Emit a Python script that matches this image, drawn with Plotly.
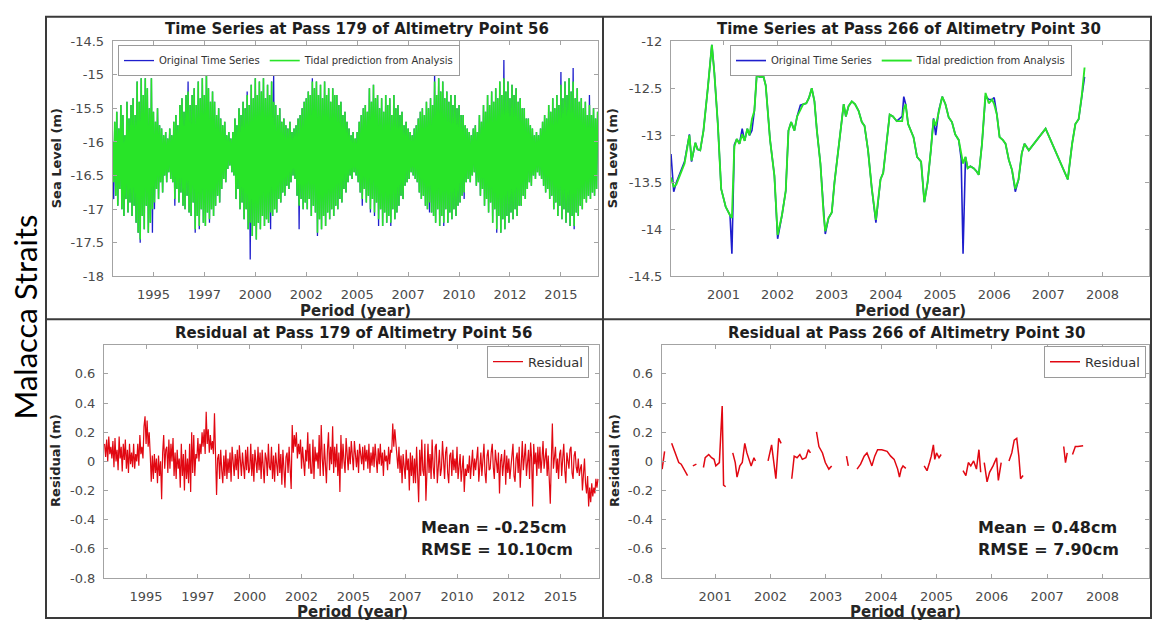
import numpy as np
import plotly.graph_objects as go

# ---------------- DATA ----------------
# Top-left: Pass 179, point 56 (sampled every 0.05 yr from 1993.0), one row per year
tl_start = 1993.0
tl_step = 0.05
tl_tide = [
    -16.0, -16.6, -15.7, -16.8, -15.55, -16.95, -15.8, -16.7, -15.45, -17.0, -15.6, -17.1, -15.9, -16.85, -15.4, -17.05, -15.65, -16.9, -15.45, -17.1,
    -15.35, -16.95, -15.6, -17.2, -15.1, -17.35, -15.4, -17.45, -15.05, -17.1, -15.3, -17.3, -15.05, -16.95, -15.2, -17.35, -15.5, -17.2, -15.05, -17.0,
    -15.55, -16.9, -15.7, -16.7, -15.5, -16.85, -15.75, -16.6, -15.8, -16.75, -15.9, -16.5, -15.85, -16.6, -15.95, -16.45, -15.8, -16.55, -15.9, -16.6,
    -15.7, -16.85, -15.6, -16.7, -15.75, -16.9, -15.45, -16.75, -15.35, -16.95, -15.55, -17.0, -15.3, -16.8, -15.25, -17.05, -15.45, -17.1, -15.3, -16.9,
    -15.2, -17.3, -15.45, -17.1, -15.1, -17.25, -15.35, -17.0, -15.05, -17.2, -15.3, -17.25, -14.95, -17.05, -15.2, -17.15, -15.4, -17.0, -15.25, -17.1,
    -15.4, -16.95, -15.6, -16.8, -15.5, -16.9, -15.65, -16.7, -15.75, -16.55, -15.7, -16.6, -15.9, -16.4, -15.85, -16.35, -15.95, -16.45, -15.85, -16.5,
    -15.65, -16.85, -15.75, -16.7, -15.5, -17.0, -15.6, -16.9, -15.4, -17.15, -15.5, -17.0, -15.3, -17.3, -15.45, -17.2, -15.15, -17.4, -15.35, -17.25,
    -15.05, -17.45, -15.3, -17.2, -15.1, -17.3, -15.25, -17.1, -15.05, -17.25, -15.35, -17.15, -15.15, -17.2, -15.3, -17.05, -15.1, -17.1, -15.4, -17.0,
    -15.45, -17.05, -15.6, -16.85, -15.5, -16.9, -15.7, -16.75, -15.65, -16.8, -15.75, -16.65, -15.8, -16.7, -15.7, -16.6, -15.85, -16.5, -15.8, -16.55,
    -15.75, -16.8, -15.65, -16.95, -15.6, -16.85, -15.5, -17.0, -15.4, -16.9, -15.35, -17.0, -15.25, -16.85, -15.3, -17.1, -15.1, -16.95, -15.2, -17.05,
    -15.1, -17.35, -15.3, -17.15, -15.15, -17.3, -15.35, -17.1, -15.1, -17.25, -15.3, -17.05, -15.2, -17.15, -15.4, -17.0, -15.2, -17.1, -15.3, -16.95,
    -15.3, -17.0, -15.45, -16.85, -15.4, -16.9, -15.6, -16.7, -15.55, -16.75, -15.7, -16.6, -15.8, -16.5, -15.9, -16.55, -15.85, -16.45, -15.95, -16.5,
    -15.85, -16.6, -15.7, -16.75, -15.6, -16.85, -15.5, -16.7, -15.45, -16.9, -15.55, -16.8, -15.2, -17.0, -15.4, -16.85, -15.15, -17.05, -15.35, -16.9,
    -15.3, -17.15, -15.5, -17.0, -15.35, -17.25, -15.55, -17.05, -15.3, -17.2, -15.45, -17.1, -15.35, -17.2, -15.6, -17.0, -15.3, -17.15, -15.5, -17.05,
    -15.45, -16.95, -15.6, -16.8, -15.55, -16.85, -15.75, -16.65, -15.7, -16.6, -15.8, -16.55, -15.85, -16.45, -15.9, -16.5, -15.8, -16.55, -15.75, -16.6,
    -15.65, -16.75, -15.55, -16.85, -15.5, -16.8, -15.6, -16.95, -15.4, -17.0, -15.5, -16.9, -15.35, -17.05, -15.45, -17.1, -15.1, -17.2, -15.3, -17.0,
    -15.05, -17.25, -15.25, -17.1, -15.1, -17.2, -15.35, -17.0, -15.25, -17.2, -15.4, -17.05, -15.3, -17.15, -15.45, -17.0, -15.3, -17.1, -15.5, -16.95,
    -15.45, -16.9, -15.6, -16.8, -15.6, -16.75, -15.75, -16.6, -15.8, -16.55, -15.85, -16.6, -15.9, -16.5, -15.8, -16.45, -15.75, -16.65, -15.85, -16.6,
    -15.6, -16.8, -15.7, -16.7, -15.45, -16.95, -15.55, -16.85, -15.3, -17.05, -15.45, -16.9, -15.25, -17.2, -15.4, -17.0, -15.2, -17.3, -15.35, -17.1,
    -15.1, -17.35, -15.3, -17.15, -15.05, -17.3, -15.25, -17.1, -15.1, -17.2, -15.35, -17.05, -15.15, -17.15, -15.3, -17.0, -15.2, -17.1, -15.4, -16.95,
    -15.35, -16.95, -15.5, -16.8, -15.5, -16.85, -15.65, -16.7, -15.65, -16.6, -15.75, -16.65, -15.8, -16.5, -15.9, -16.55, -15.85, -16.45, -15.9, -16.5,
    -15.8, -16.55, -15.7, -16.65, -15.6, -16.75, -15.65, -16.7, -15.45, -16.85, -15.55, -16.8, -15.35, -17.0, -15.5, -16.9, -15.3, -17.1, -15.45, -16.95,
    -15.15, -17.15, -15.35, -17.0, -15.1, -17.2, -15.3, -17.05, -15.05, -17.25, -15.25, -17.1, -15.1, -17.25, -15.35, -17.05, -15.2, -17.1, -15.4, -16.95,
    -15.35, -17.0, -15.5, -16.85, -15.4, -16.9, -15.6, -16.8, -15.45, -16.85, -15.6, -16.75, -15.5, -16.8, -15.65, -16.7, -15.55,
]
tl_orig = [
    -16.0, -16.85, -15.7, -16.8, -15.55, -16.95, -15.8, -16.7, -15.45, -17.0, -15.6, -17.1, -15.9, -16.85, -15.4, -17.05, -15.65, -16.9, -15.45, -17.1,
    -15.35, -16.95, -15.6, -17.2, -15.1, -17.35, -15.4, -17.5, -15.05, -17.1, -15.3, -17.3, -15.05, -16.95, -15.2, -17.35, -15.5, -17.2, -15.05, -17.35,
    -15.55, -17.0, -15.7, -16.7, -15.5, -16.85, -15.75, -16.6, -15.8, -16.75, -15.9, -16.5, -15.85, -16.6, -15.95, -16.45, -15.8, -16.55, -15.9, -16.6,
    -15.7, -16.95, -15.6, -16.7, -15.75, -16.9, -15.45, -16.75, -15.35, -16.95, -15.55, -17.0, -15.3, -16.8, -15.1, -17.05, -15.45, -17.1, -15.3, -16.9,
    -15.2, -17.35, -15.45, -17.1, -15.1, -17.3, -15.35, -17.0, -15.05, -17.2, -15.3, -17.25, -14.95, -17.05, -15.2, -17.2, -15.4, -17.0, -15.25, -17.1,
    -15.4, -16.95, -15.6, -16.8, -15.5, -16.9, -15.65, -16.7, -15.75, -16.55, -15.7, -16.6, -15.9, -16.4, -15.85, -16.35, -15.95, -16.45, -15.85, -16.5,
    -15.65, -16.85, -15.75, -16.7, -15.5, -17.0, -15.6, -16.9, -15.4, -17.15, -15.5, -17.0, -15.25, -17.3, -15.45, -17.75, -15.15, -17.4, -15.35, -17.25,
    -15.05, -17.45, -15.3, -17.2, -15.1, -17.3, -15.25, -17.1, -15.05, -17.25, -15.35, -17.15, -15.15, -17.2, -15.3, -17.3, -15.1, -17.1, -14.98, -17.0,
    -15.45, -17.05, -15.6, -16.85, -15.5, -16.9, -15.7, -16.75, -15.65, -16.8, -15.75, -16.65, -15.8, -16.7, -15.7, -16.6, -15.85, -16.5, -15.8, -16.55,
    -15.75, -16.8, -15.65, -17.3, -15.6, -16.85, -15.5, -17.0, -15.4, -16.9, -15.35, -17.0, -15.25, -16.85, -15.3, -17.1, -15.05, -16.95, -15.2, -17.05,
    -15.1, -17.4, -15.3, -17.15, -15.15, -17.3, -15.35, -17.1, -15.1, -17.25, -15.3, -17.05, -15.2, -17.15, -15.4, -17.0, -15.2, -17.1, -15.3, -16.95,
    -15.3, -17.0, -15.45, -16.85, -15.4, -16.9, -15.6, -16.7, -15.55, -16.75, -15.7, -16.6, -15.8, -16.5, -15.9, -16.55, -15.85, -16.45, -15.95, -16.5,
    -15.85, -16.6, -15.7, -16.75, -15.6, -16.95, -15.5, -16.7, -15.45, -16.9, -15.55, -16.8, -15.2, -17.05, -15.4, -16.85, -15.15, -17.1, -15.35, -16.9,
    -15.3, -17.25, -15.5, -17.0, -15.35, -17.25, -15.55, -17.05, -15.3, -17.2, -15.45, -17.1, -15.35, -17.25, -15.6, -17.0, -15.3, -17.15, -15.5, -17.05,
    -15.45, -16.95, -15.6, -16.8, -15.55, -16.85, -15.75, -16.65, -15.7, -16.6, -15.8, -16.55, -15.85, -16.45, -15.9, -16.5, -15.8, -16.55, -15.75, -16.6,
    -15.65, -16.75, -15.55, -16.85, -15.5, -16.8, -15.6, -16.95, -15.4, -17.0, -15.5, -17.05, -15.35, -17.05, -15.45, -17.1, -14.95, -17.2, -15.3, -17.0,
    -15.05, -17.25, -15.25, -17.1, -15.1, -17.25, -15.35, -17.0, -15.25, -17.2, -15.4, -17.05, -15.3, -17.15, -15.45, -17.0, -15.3, -17.1, -15.5, -16.95,
    -15.45, -16.9, -15.6, -16.8, -15.6, -16.85, -15.75, -16.6, -15.8, -16.55, -15.85, -16.6, -15.9, -16.5, -15.8, -16.45, -15.75, -16.65, -15.85, -16.6,
    -15.6, -16.8, -15.7, -16.7, -15.45, -16.95, -15.55, -16.85, -15.3, -17.05, -15.45, -16.9, -15.25, -17.2, -15.4, -17.0, -15.2, -17.35, -15.35, -17.1,
    -15.1, -17.35, -15.3, -17.15, -14.78, -17.3, -15.25, -17.1, -15.1, -17.2, -15.35, -17.05, -15.15, -17.15, -15.3, -17.0, -15.2, -17.1, -15.4, -16.95,
    -15.35, -16.95, -15.5, -16.8, -15.5, -16.85, -15.65, -16.7, -15.65, -16.6, -15.75, -16.65, -15.8, -16.5, -15.9, -16.55, -15.85, -16.45, -15.9, -16.5,
    -15.8, -16.55, -15.7, -16.65, -15.6, -16.75, -15.65, -16.7, -15.45, -16.85, -15.55, -16.8, -15.35, -17.0, -15.5, -16.9, -15.3, -17.1, -15.45, -16.95,
    -14.96, -17.15, -15.35, -17.0, -15.1, -17.2, -15.3, -17.05, -15.05, -17.25, -15.25, -17.1, -14.9, -17.3, -15.35, -17.05, -15.2, -17.1, -15.4, -16.95,
    -15.35, -17.0, -15.5, -16.85, -15.4, -16.9, -15.6, -16.8, -15.3, -16.85, -15.6, -16.75, -15.5, -16.8, -15.65, -16.7, -15.55,
]
# Bottom-left: residual (sampled every 0.05 yr from 1993.0), one row per year
bl_start = 1993.0
bl_step = 0.05
bl_resid = [
    0.12, 0.03, 0.15, 0.0, 0.17, 0.05, 0.10, 0.02, 0.14, -0.04, 0.16, 0.00, 0.08, -0.06, 0.17, 0.02, 0.10, -0.07, 0.12, 0.01,
    0.15, -0.05, 0.08, -0.08, 0.12, -0.02, 0.06, -0.04, 0.12, -0.05, 0.05, 0.00, 0.12, -0.03, 0.18, 0.05, 0.10, 0.02, 0.24, 0.31,
    0.12, 0.28, 0.10, 0.20, 0.05, -0.14, 0.04, -0.12, 0.05, -0.08, 0.02, -0.15, 0.04, -0.10, 0.0, -0.26, 0.06, 0.18, -0.05, 0.08,
    0.10, -0.08, 0.15, -0.05, 0.12, 0.0, 0.16, -0.10, 0.06, -0.12, 0.08, -0.05, 0.02, -0.18, 0.12, -0.10, 0.05, -0.20, 0.08, -0.12,
    0.02, -0.15, 0.12, -0.21, 0.20, -0.08, 0.18, -0.10, 0.05, 0.02, 0.16, 0.0, 0.12, 0.05, 0.20, 0.10, 0.22, 0.05, 0.34, 0.12,
    0.22, 0.06, 0.18, 0.08, 0.14, 0.05, 0.33, 0.10, -0.23, 0.02, 0.05, -0.12, 0.08, -0.06, -0.15, 0.04, -0.10, 0.08, -0.12, 0.02,
    -0.08, 0.06, -0.14, 0.10, 0.0, -0.10, 0.05, -0.06, 0.08, -0.12, 0.11, -0.04, -0.10, 0.06, -0.02, -0.12, 0.08, -0.06, 0.10, -0.08,
    -0.05, 0.12, -0.10, 0.05, -0.14, 0.08, 0.0, -0.08, 0.10, -0.06, 0.06, -0.12, 0.08, -0.03, -0.15, 0.06, 0.02, -0.10, 0.12, -0.04,
    -0.06, 0.10, -0.12, 0.04, -0.14, 0.06, -0.02, -0.10, 0.12, -0.08, 0.05, -0.16, 0.08, -0.04, -0.18, 0.03, 0.06, -0.08, 0.10, -0.05,
    -0.19, 0.25, 0.06, 0.18, 0.10, 0.20, 0.02, 0.12, 0.05, 0.15, -0.05, 0.10, -0.02, -0.10, 0.08, 0.0, 0.20, -0.05, 0.12, -0.08,
    -0.08, 0.15, -0.12, 0.10, 0.0, 0.06, -0.05, 0.18, -0.10, 0.25, 0.02, -0.10, 0.12, -0.04, -0.15, 0.08, 0.20, -0.06, 0.10, -0.02,
    0.24, -0.08, 0.10, -0.04, 0.12, -0.10, 0.06, -0.21, 0.18, -0.05, 0.12, 0.0, -0.08, 0.16, 0.04, -0.06, 0.10, -0.02, 0.14, 0.02,
    -0.06, 0.14, 0.0, -0.04, 0.08, -0.08, 0.12, 0.02, -0.02, 0.10, -0.06, 0.11, 0.0, 0.08, -0.05, 0.12, -0.08, 0.06, -0.03, 0.10,
    -0.04, 0.12, 0.0, -0.08, 0.09, -0.02, 0.12, -0.03, 0.06, -0.10, 0.08, 0.0, 0.04, -0.06, 0.10, -0.02, 0.08, 0.06, 0.26, 0.10,
    0.22, 0.12, 0.05, -0.05, 0.10, -0.08, 0.04, -0.15, 0.05, -0.02, -0.12, 0.08, -0.06, 0.02, -0.20, 0.06, -0.10, 0.04, -0.15, 0.02,
    -0.15, 0.10, -0.05, -0.28, 0.08, -0.10, 0.15, -0.06, -0.10, 0.12, -0.27, 0.02, 0.12, -0.08, 0.05, -0.12, 0.15, -0.04, -0.12, 0.10,
    0.12, -0.15, 0.02, 0.08, -0.10, -0.05, 0.14, -0.04, -0.12, 0.06, 0.10, -0.08, -0.15, 0.04, 0.06, -0.10, 0.08, -0.06, 0.02, -0.08,
    0.10, -0.12, 0.0, 0.05, -0.14, -0.02, 0.04, -0.21, -0.05, -0.10, -0.02, -0.08, 0.04, -0.12, -0.04, 0.08, -0.10, 0.02, -0.06, 0.05,
    0.10, -0.14, -0.02, 0.06, -0.10, 0.02, 0.12, -0.08, -0.15, 0.04, 0.08, -0.06, -0.05, 0.06, 0.12, -0.04, -0.12, 0.08, -0.02, -0.08,
    0.06, -0.22, 0.0, 0.05, -0.10, -0.02, 0.08, -0.16, 0.04, -0.08, 0.02, -0.12, -0.04, 0.06, 0.12, -0.10, -0.14, 0.02, 0.06, -0.08,
    0.10, -0.18, 0.02, 0.14, -0.06, 0.04, 0.12, -0.10, -0.02, 0.08, -0.12, 0.13, 0.02, -0.31, 0.12, -0.02, 0.06, -0.10, 0.10, -0.05,
    0.10, -0.08, 0.02, 0.14, -0.05, 0.06, 0.09, -0.10, 0.04, -0.12, -0.29, 0.0, 0.26, -0.05, 0.04, 0.10, -0.08, 0.02, -0.12, 0.05,
    0.08, -0.10, 0.02, 0.12, -0.06, -0.15, 0.06, -0.02, -0.05, 0.08, 0.10, -0.08, -0.12, 0.04, 0.07, -0.04, -0.08, 0.02, -0.10, -0.05,
    -0.02, -0.20, -0.08, 0.02, -0.15, -0.22, -0.10, -0.31, -0.18, -0.28, -0.15, -0.24, -0.18, -0.22, -0.12, -0.18, -0.12,
]

# Top-right: Pass 266, point 30
tr_years = [
    2000.03, 2000.08, 2000.13, 2000.20, 2000.28, 2000.37, 2000.41, 2000.48, 2000.52, 2000.57,
    2000.63, 2000.71, 2000.785, 2000.83, 2000.895, 2000.957, 2001.04, 2001.12, 2001.155, 2001.20,
    2001.245, 2001.295, 2001.345, 2001.39, 2001.44, 2001.48, 2001.525, 2001.57, 2001.615, 2001.66,
    2001.74, 2001.78, 2001.86, 2001.94, 2002.00, 2002.08, 2002.15, 2002.20, 2002.25, 2002.31,
    2002.36, 2002.42, 2002.47, 2002.53, 2002.58, 2002.63, 2002.68, 2002.725, 2002.79, 2002.85,
    2002.88, 2002.94, 2003.00, 2003.05, 2003.13, 2003.22, 2003.26, 2003.31, 2003.37, 2003.43,
    2003.495, 2003.555, 2003.605, 2003.67, 2003.74, 2003.815, 2003.90, 2003.95, 2004.01, 2004.07,
    2004.13, 2004.20, 2004.30, 2004.33, 2004.365, 2004.41, 2004.46, 2004.51, 2004.575, 2004.65,
    2004.71, 2004.77, 2004.83, 2004.88, 2004.92, 2004.975, 2005.04, 2005.10, 2005.16, 2005.22,
    2005.28, 2005.345, 2005.39, 2005.425, 2005.47, 2005.51, 2005.56, 2005.62, 2005.67, 2005.715,
    2005.775, 2005.84, 2005.90, 2005.96, 2006.00, 2006.05, 2006.10, 2006.16, 2006.21, 2006.27,
    2006.33, 2006.39, 2006.45, 2006.51, 2006.56, 2006.64, 2006.95, 2007.36, 2007.44, 2007.50,
    2007.56, 2007.62, 2007.67,
]
tr_tide = [
    -13.45, -13.55, -13.52, -13.42, -13.30, -13.00, -13.27, -13.08, -13.15, -13.16,
    -12.95, -12.50, -12.04, -12.33, -12.88, -13.57, -13.76, -13.85, -13.88, -13.12,
    -13.04, -13.09, -12.99, -13.06, -12.93, -13.00, -12.83, -12.74, -12.35, -12.38,
    -12.38, -12.47, -13.05, -13.43, -14.06, -13.85, -13.59, -12.95, -12.86, -12.95,
    -12.80, -12.73, -12.67, -12.66, -12.60, -12.50, -12.64, -12.95, -13.30, -13.85,
    -14.02, -13.88, -13.82, -13.50, -13.12, -12.67, -12.80, -12.69, -12.64, -12.67,
    -12.74, -12.86, -12.90, -13.16, -13.57, -13.90, -13.47, -13.40, -13.09, -12.78,
    -12.80, -12.85, -12.85, -12.72, -12.67, -12.88, -12.95, -13.02, -13.23, -13.28,
    -13.71, -13.50, -13.16, -12.83, -12.90, -12.74, -12.59, -12.67, -12.81, -12.86,
    -12.99, -13.05, -13.19, -13.30, -13.23, -13.35, -13.33, -13.35, -13.38, -13.42,
    -13.09, -12.55, -12.66, -12.62, -12.67, -12.78, -13.02, -13.05, -13.09, -13.26,
    -13.37, -13.57, -13.47, -13.19, -13.09, -13.16, -12.93, -13.47, -13.09, -12.88,
    -12.83, -12.57, -12.28,
]
tr_orig = [
    -13.20, -13.60, -13.50, -13.40, -13.28, -12.99, -13.28, -13.08, -13.15, -13.16,
    -12.95, -12.50, -12.04, -12.33, -12.88, -13.57, -13.76, -13.85, -14.26, -13.10,
    -13.04, -13.09, -12.93, -13.06, -12.93, -13.00, -12.95, -12.74, -12.35, -12.38,
    -12.38, -12.47, -13.05, -13.43, -14.10, -13.85, -13.59, -12.95, -12.86, -12.95,
    -12.80, -12.68, -12.67, -12.66, -12.60, -12.50, -12.64, -12.95, -13.30, -13.85,
    -14.05, -13.88, -13.82, -13.50, -13.12, -12.67, -12.80, -12.69, -12.64, -12.67,
    -12.74, -12.86, -12.90, -13.16, -13.57, -13.93, -13.47, -13.40, -13.09, -12.78,
    -12.80, -12.85, -12.80, -12.59, -12.67, -12.88, -12.95, -13.02, -13.23, -13.28,
    -13.71, -13.50, -13.16, -12.82, -13.00, -12.74, -12.59, -12.67, -12.81, -12.86,
    -12.99, -13.05, -13.25, -14.26, -13.23, -13.35, -13.33, -13.35, -13.38, -13.42,
    -13.09, -12.58, -12.62, -12.62, -12.60, -12.78, -13.02, -13.05, -13.09, -13.26,
    -13.37, -13.60, -13.47, -13.19, -13.09, -13.16, -12.93, -13.47, -13.09, -12.88,
    -12.83, -12.57, -12.38,
]

# Bottom-right: residual with data gaps (None)
br_years = [
    2000.043, 2000.087, None,
    2000.215, 2000.279, 2000.343, 2000.387, 2000.438, 2000.502, None,
    2000.598, 2000.662, None,
    2000.789, 2000.821, 2000.885, 2000.936, 2000.981, 2001.013, 2001.077, 2001.128, 2001.153, 2001.191, None,
    2001.319, 2001.364, 2001.396, 2001.447, 2001.491, 2001.536, 2001.574, 2001.619, 2001.651, 2001.702, 2001.728, None,
    2001.957, 2002.021, 2002.098, 2002.149, 2002.193, None,
    2002.385, 2002.429, 2002.481, 2002.532, 2002.576, 2002.640, 2002.685, 2002.723, None,
    2002.832, 2002.876, 2002.940, 2002.991, 2003.055, 2003.106, None,
    2003.374, 2003.406, None,
    2003.565, 2003.629, 2003.693, 2003.744, 2003.789, 2003.833, 2003.884, 2003.936,
    2004.012, 2004.108, 2004.172, 2004.235, 2004.299, 2004.331, 2004.363, 2004.395, 2004.446, None,
    2004.778, 2004.829, 2004.874, 2004.906, 2004.944, 2004.969, 2005.001, 2005.046, 2005.084, None,
    2005.480, 2005.531, 2005.576, 2005.620, 2005.671, 2005.722, 2005.767, 2005.799, None,
    2005.863, 2005.914, 2005.959, 2006.022, 2006.086, 2006.118, 2006.169, None,
    2006.310, 2006.361, 2006.405, 2006.450, 2006.488, 2006.520, 2006.565, None,
    2007.299, 2007.331, 2007.362, None,
    2007.458, 2007.509, 2007.554, 2007.650,
]
br_resid = [
    -0.053, 0.069, None,
    0.124, 0.058, -0.008, -0.019, -0.053, -0.097, None,
    -0.031, -0.019, None,
    -0.042, 0.025, 0.047, 0.025, 0.014, -0.031, -0.008, 0.379, -0.163, -0.174, None,
    0.058, -0.008, -0.108, -0.031, -0.008, 0.124, 0.058, 0.014, -0.031, 0.025, 0.003, None,
    0.003, 0.113, -0.119, 0.158, 0.124, None,
    -0.119, 0.036, 0.025, 0.047, 0.014, 0.025, 0.080, 0.058, None,
    0.202, 0.102, 0.058, -0.008, -0.053, -0.031, None,
    0.036, -0.031, None,
    -0.053, -0.019, 0.036, 0.058, 0.014, -0.031, 0.036, 0.080,
    0.080, 0.069, 0.036, 0.014, -0.053, -0.108, -0.053, -0.031, -0.048, None,
    -0.031, -0.064, -0.008, 0.036, 0.113, 0.014, 0.058, 0.025, 0.047, None,
    -0.064, -0.097, -0.008, -0.031, 0.003, -0.053, 0.080, -0.075, None,
    -0.008, -0.141, -0.075, -0.031, 0.025, -0.130, -0.008, None,
    0.003, 0.058, 0.146, 0.158, 0.036, -0.119, -0.097, None,
    0.102, -0.008, 0.058, None,
    0.047, 0.102, 0.102, 0.107,
]

# Ticks
left_xtickvals = [1995, 1997.5, 2000, 2002.5, 2005, 2007.5, 2010, 2012.5, 2015]
left_xticktext = ["1995", "1997", "2000", "2002", "2005", "2007", "2010", "2012", "2015"]
right_xtickvals = [2001, 2002, 2003, 2004, 2005, 2006, 2007, 2008]
right_xticktext = ["2001", "2002", "2003", "2004", "2005", "2006", "2007", "2008"]
tl_ytickvals = [-18, -17.5, -17, -16.5, -16, -15.5, -15, -14.5]
tl_yticktext = ["-18", "-17.5", "-17", "-16.5", "-16", "-15.5", "-15", "-14.5"]
tr_ytickvals = [-14.5, -14, -13.5, -13, -12.5, -12]
tr_yticktext = ["-14.5", "-14", "-13.5", "-13", "-12.5", "-12"]
res_ytickvals = [-0.8, -0.6, -0.4, -0.2, 0, 0.2, 0.4, 0.6]
res_yticktext = ["-0.8", "-0.6", "-0.4", "-0.2", "0", "0.2", "0.4", "0.6"]

titles = [
    "Time Series at Pass 179 of Altimetry Point 56",
    "Time Series at Pass 266 of Altimetry Point 30",
    "Residual at Pass 179 of Altimetry Point 56",
    "Residual at Pass 266 of Altimetry Point 30",
]
stats_left = ["Mean = -0.25cm", "RMSE = 10.10cm"]
stats_right = ["Mean = 0.48cm", "RMSE = 7.90cm"]

# ---------------- FIGURE ----------------
W, H = 1153, 628
def px(v):
    return v / W
def py(v):
    return 1 - v / H

BLUE = "rgb(30,30,205)"
GREEN = "rgb(40,228,40)"
RED = "rgb(225,8,18)"

tl_x = np.round(tl_start + tl_step * np.arange(len(tl_tide)), 3)
bl_x = np.round(bl_start + bl_step * np.arange(len(bl_resid)), 3)

fig = go.Figure()
fig.add_trace(go.Scatter(x=tl_x, y=tl_orig, mode="lines", name="Original Time Series",
                         line=dict(color=BLUE, width=1.3), xaxis="x", yaxis="y", legend="legend"))
fig.add_trace(go.Scatter(x=tl_x, y=tl_tide, mode="lines", name="Tidal prediction from Analysis",
                         line=dict(color=GREEN, width=1.6), xaxis="x", yaxis="y", legend="legend"))
fig.add_trace(go.Scatter(x=tr_years, y=tr_orig, mode="lines", name="Original Time Series",
                         line=dict(color=BLUE, width=1.6), xaxis="x2", yaxis="y2", legend="legend2"))
fig.add_trace(go.Scatter(x=tr_years, y=tr_tide, mode="lines", name="Tidal prediction from Analysis",
                         line=dict(color=GREEN, width=1.9), xaxis="x2", yaxis="y2", legend="legend2"))
fig.add_trace(go.Scatter(x=bl_x, y=bl_resid, mode="lines", name="Residual",
                         line=dict(color=RED, width=1.2), xaxis="x3", yaxis="y3", legend="legend3"))
fig.add_trace(go.Scatter(x=br_years, y=br_resid, mode="lines", name="Residual", connectgaps=False,
                         line=dict(color=RED, width=1.5), xaxis="x4", yaxis="y4", legend="legend4"))

TICKFONT = dict(family="DejaVu Sans", size=13, color="#4a4a4a")
AXLINE = "#a3a3a3"

def xax(domain, rng, tv, tt, anchor):
    return dict(domain=domain, range=rng, tickvals=tv, ticktext=tt, anchor=anchor,
                showgrid=False, zeroline=False, showline=True, linecolor=AXLINE, linewidth=1,
                mirror="ticks", ticks="inside", ticklen=4, tickcolor=AXLINE,
                tickfont=TICKFONT, ticklabelstandoff=6)

def yax(domain, rng, tv, tt, anchor):
    return dict(domain=domain, range=rng, tickvals=tv, ticktext=tt, anchor=anchor,
                showgrid=False, zeroline=False, showline=True, linecolor=AXLINE, linewidth=1,
                mirror="ticks", ticks="inside", ticklen=4, tickcolor=AXLINE,
                tickfont=TICKFONT, ticklabelstandoff=5)

top_y = [py(276), py(35)]
bot_y = [py(585), py(346)]
fig.update_layout(
    xaxis=xax([px(112.7), px(598)], [1993.0, 2016.82], left_xtickvals, left_xticktext, "y"),
    yaxis=yax(top_y, [-18, -14.5], tl_ytickvals, tl_yticktext, "x"),
    xaxis2=xax([px(671), px(1149)], [2000.03, 2008.86], right_xtickvals, right_xticktext, "y2"),
    yaxis2=yax(top_y, [-14.5, -12], tr_ytickvals, tr_yticktext, "x2"),
    xaxis3=xax([px(104), px(599)], [1992.97, 2016.85], left_xtickvals, left_xticktext, "y3"),
    yaxis3=yax(bot_y, [-0.8, 0.8], res_ytickvals, res_yticktext, "x3"),
    xaxis4=xax([px(661.7), px(1149)], [2000.035, 2008.84], right_xtickvals, right_xticktext, "y4"),
    yaxis4=yax(bot_y, [-0.8, 0.8], res_ytickvals, res_yticktext, "x4"),
)

legend_common = dict(orientation="h", bgcolor="white", bordercolor="#9a9a9a", borderwidth=1,
                     tracegroupgap=0, itemwidth=30)
fig.update_layout(
    legend=dict(x=px(118), y=py(39), xanchor="left", yanchor="top",
                font=dict(family="DejaVu Sans", size=10, color="#333"), **legend_common),
    legend2=dict(x=px(730), y=py(39), xanchor="left", yanchor="top",
                 font=dict(family="DejaVu Sans", size=10, color="#333"), **legend_common),
    legend3=dict(x=px(589), y=py(347), xanchor="right", yanchor="top",
                 font=dict(family="DejaVu Sans", size=13, color="#333"), **legend_common),
    legend4=dict(x=px(1146), y=py(347), xanchor="right", yanchor="top",
                 font=dict(family="DejaVu Sans", size=13, color="#333"), **legend_common),
)

ann = []
TITLEFONT = dict(family="DejaVu Sans", size=15, color="#1e1e1e")
for txt, cx, cy in zip(titles, [357, 909, 353, 906], [23, 23, 334, 334]):
    ann.append(dict(text="<b>" + txt + "</b>", x=px(cx), y=py(cy), xref="paper", yref="paper",
                    xanchor="center", yanchor="middle", showarrow=False, font=TITLEFONT))
LABFONT = dict(family="DejaVu Sans", size=15, color="#262626")
for cx, cy in [(355, 311), (910, 311), (352, 620), (905, 620)]:
    ann.append(dict(text="<b>Period (year)</b>", x=px(cx), y=py(cy), xref="paper", yref="paper",
                    xanchor="center", yanchor="middle", showarrow=False, font=LABFONT))
YLABFONT = dict(family="DejaVu Sans", size=13, color="#262626")
for txt, cx, cy in [("Sea Level (m)", 56, 155), ("Sea Level (m)", 612, 155),
                    ("Residual (m)", 56, 465), ("Residual (m)", 615, 465)]:
    ann.append(dict(text="<b>" + txt + "</b>", x=px(cx), y=py(cy), xref="paper", yref="paper",
                    xanchor="center", yanchor="middle", textangle=-90, showarrow=False, font=YLABFONT))
STATFONT = dict(family="DejaVu Sans", size=16, color="#1e1e1e")
for lines_, lx in [(stats_left, 419), (stats_right, 976)]:
    for t, cy in zip(lines_, [533, 556]):
        ann.append(dict(text="<b>" + t + "</b>", x=px(lx), y=py(cy), xref="paper", yref="paper",
                        xanchor="left", yanchor="middle", showarrow=False, font=STATFONT))
ann.append(dict(text="Malacca Straits", x=px(25), y=py(318), xref="paper", yref="paper",
                xanchor="center", yanchor="middle", textangle=-90, showarrow=False,
                font=dict(family="Lato", size=31, color="#000")))

FRAME = "#3a3a3a"
shapes = [
    dict(type="rect", xref="paper", yref="paper", x0=px(46), x1=px(1151), y0=py(626), y1=py(10),
         line=dict(color=FRAME, width=2)),
    dict(type="line", xref="paper", yref="paper", x0=px(603), x1=px(603), y0=py(626), y1=py(10),
         line=dict(color=FRAME, width=2)),
    dict(type="line", xref="paper", yref="paper", x0=px(46), x1=px(1151), y0=py(320), y1=py(320),
         line=dict(color=FRAME, width=2)),
]

fig.update_layout(
    width=W, height=H, autosize=False,
    margin=dict(l=0, r=0, t=0, b=0, pad=0),
    paper_bgcolor="white", plot_bgcolor="white",
    annotations=ann, shapes=shapes,
    font=dict(family="DejaVu Sans"),
)

fig.write_html("out.html", config={"displayModeBar": False},
               post_script="document.body.style.margin='0';")
